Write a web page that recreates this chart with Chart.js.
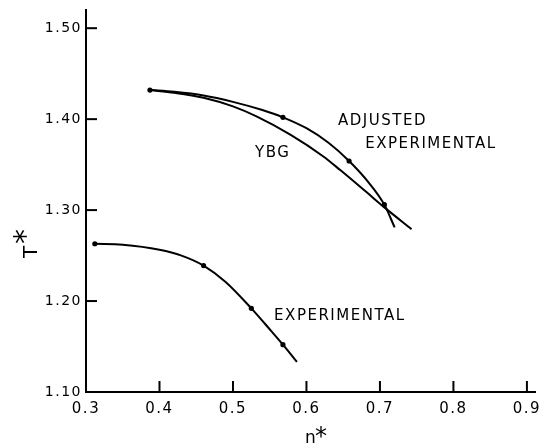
<!DOCTYPE html>
<html><head><meta charset="utf-8">
<script src="https://cdn.jsdelivr.net/npm/chart.js@4.4.0/dist/chart.umd.min.js"></script>
<style>html,body{margin:0;padding:0;background:#fff}</style>
</head><body>
<canvas id="c" width="539" height="443" style="width:539px;height:443px;display:block"></canvas>
<script>
// Tick labels
const xTicks = [0.3, 0.4, 0.5, 0.6, 0.7, 0.8, 0.9];
const yTicks = [1.10, 1.20, 1.30, 1.40, 1.50];

// EXPERIMENTAL curve (lower)
const expN = [0.312, 0.350, 0.400, 0.430, 0.460, 0.490, 0.525, 0.550, 0.568, 0.587];
const expT = [1.263, 1.262, 1.2565, 1.250, 1.239, 1.221, 1.192, 1.169, 1.152, 1.133];
const expDotN = [0.312, 0.460, 0.525, 0.568];
const expDotT = [1.263, 1.239, 1.192, 1.152];

// ADJUSTED EXPERIMENTAL curve
const adjN = [0.387, 0.420, 0.460, 0.500, 0.540, 0.568, 0.600, 0.630, 0.658, 0.685, 0.706, 0.720];
const adjT = [1.432, 1.430, 1.426, 1.419, 1.410, 1.402, 1.390, 1.374, 1.354, 1.330, 1.306, 1.281];
const adjDotN = [0.387, 0.568, 0.658, 0.706];
const adjDotT = [1.432, 1.402, 1.354, 1.306];

// YBG curve
const ybgN = [0.387, 0.420, 0.460, 0.500, 0.532, 0.578, 0.623, 0.646, 0.682, 0.706, 0.743];
const ybgT = [1.432, 1.429, 1.4235, 1.414, 1.403, 1.383, 1.359, 1.344, 1.3195, 1.303, 1.279];

// Curve labels
const labelTexts = ['ADJUSTED', 'EXPERIMENTAL', 'YBG', 'EXPERIMENTAL'];
const labelN = [0.643, 0.680, 0.530, 0.556];
const labelT = [1.398, 1.3725, 1.363, 1.1835];

// Axis titles
const xTitle = ['n', '*'];
const yTitle = ['T', '*'];

const pts = (xs, ys) => xs.map((v, i) => ({x: v, y: ys[i]}));

const lineStyle = {
  showLine: true, borderColor: '#000', borderWidth: 2, pointRadius: 0,
  cubicInterpolationMode: 'monotone', fill: false
};
const dotStyle = {
  showLine: false, pointRadius: 2.6, pointBackgroundColor: '#000', pointBorderColor: '#000', pointBorderWidth: 0
};

const decor = {
  id: 'decor',
  beforeDraw(chart) { chart.ctx.letterSpacing = '1.5px'; },
  afterDatasetsDraw(chart) {
    const {ctx, chartArea, scales: {x, y}} = chart;
    ctx.save();
    ctx.strokeStyle = '#000'; ctx.lineWidth = 2;
    xTicks.forEach(v => {
      const px = x.getPixelForValue(v);
      ctx.beginPath(); ctx.moveTo(px, chartArea.bottom); ctx.lineTo(px, chartArea.bottom - 11); ctx.stroke();
    });
    yTicks.forEach(v => {
      const py = y.getPixelForValue(v);
      ctx.beginPath(); ctx.moveTo(chartArea.left, py); ctx.lineTo(chartArea.left + 11, py); ctx.stroke();
    });
    ctx.fillStyle = '#000';
    ctx.font = '15px "DejaVu Sans"';
    ctx.textAlign = 'left'; ctx.textBaseline = 'middle';
    ctx.letterSpacing = '1.5px';
    labelTexts.forEach((t, i) => {
      ctx.fillText(t, x.getPixelForValue(labelN[i]), y.getPixelForValue(labelT[i]));
    });
    // axis titles
    ctx.letterSpacing = '0px';
    ctx.textBaseline = 'alphabetic';
    ctx.font = '17px "DejaVu Sans"';
    ctx.fillText(xTitle[0], 305, 443);
    ctx.font = '24px "DejaVu Sans"';
    ctx.fillText(xTitle[1], 315, 444);
    ctx.translate(37, 258);
    ctx.rotate(-Math.PI / 2);
    ctx.font = '20px "DejaVu Sans"';
    ctx.fillText(yTitle[0], 0, 0);
    ctx.font = '30px "DejaVu Sans"';
    ctx.fillText(yTitle[1], 14, -2);
    ctx.restore();
  },
  afterDraw(chart) { chart.ctx.letterSpacing = '0px'; }
};

new Chart(document.getElementById('c'), {
  type: 'scatter',
  data: {
    datasets: [
      Object.assign({data: pts(expN, expT)}, lineStyle),
      Object.assign({data: pts(adjN, adjT)}, lineStyle),
      Object.assign({data: pts(ybgN, ybgT)}, lineStyle),
      Object.assign({data: pts(expDotN, expDotT)}, dotStyle),
      Object.assign({data: pts(adjDotN, adjDotT)}, dotStyle)
    ]
  },
  options: {
    responsive: false, animation: false, devicePixelRatio: 1,
    layout: {padding: {top: 10, right: 4, left: 0, bottom: 0}},
    plugins: {legend: {display: false}, tooltip: {enabled: false}},
    scales: {
      x: {
        type: 'linear', min: 0.3, max: 0.911,
        afterBuildTicks(s) { s.ticks = xTicks.map(v => ({value: v})); },
        afterFit(s) { s.height = 51; },
        grid: {display: false},
        border: {display: true, color: '#000', width: 2},
        ticks: {color: '#000', padding: 0, font: {family: 'DejaVu Sans', size: 15},
                callback: v => v.toFixed(1), maxRotation: 0, autoSkip: false},
        title: {display: false}
      },
      y: {
        type: 'linear', min: 1.10, max: 1.52,
        afterBuildTicks(s) { s.ticks = yTicks.map(v => ({value: v})); },
        afterFit(s) { s.width = 86; },
        grid: {display: false},
        border: {display: true, color: '#000', width: 2},
        ticks: {color: '#000', padding: -4, font: {family: 'DejaVu Sans', size: 14},
                callback: v => v.toFixed(2), autoSkip: false},
        title: {display: false}
      }
    }
  },
  plugins: [decor]
});
</script>
</body></html>
